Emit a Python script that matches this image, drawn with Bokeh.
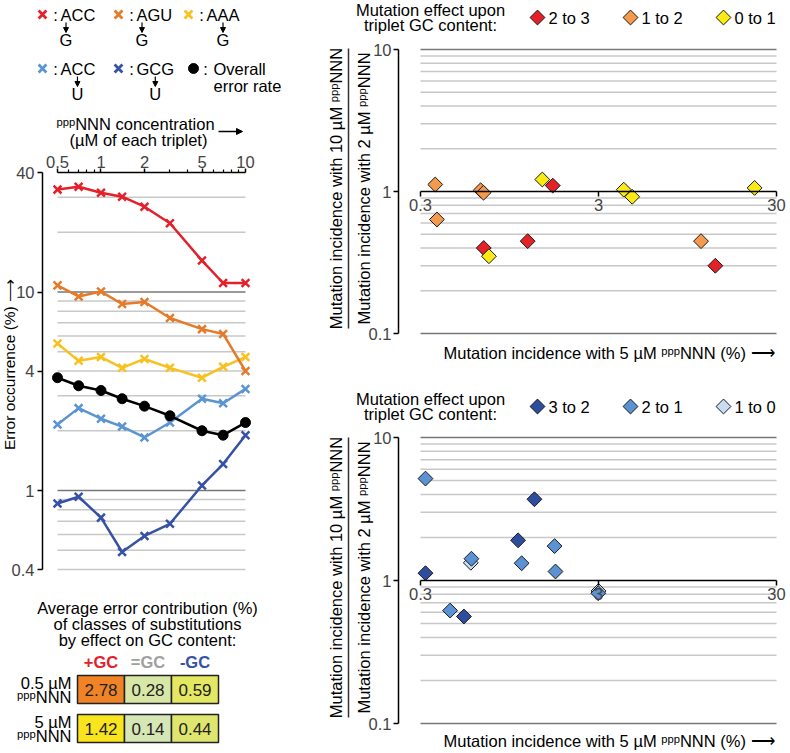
import math
from bokeh.plotting import figure
from bokeh.models import (Range1d, FixedTicker, LogAxis, LogScale, CustomJSTickFormatter,
                          Arrow, NormalHead)
from bokeh.core.properties import value
from bokeh.embed import file_html
from bokeh.resources import INLINE

FONT = "Liberation Sans"
PPP = "\u1d56\u1d56\u1d56"
ARROW = "\u27f6"
FS = 16.5

# ---------------- data ----------------
concentration = [0.5, 0.7, 1, 1.4, 2, 3, 5, 7, 10]
err_acc_to_g = [32.8, 33.9, 31.6, 30.2, 26.9, 22.2, 14.4, 11.1, 11.1]
err_agu_to_g = [10.8, 9.5, 10.05, 8.7, 8.9, 7.4, 6.5, 6.15, 4.0]
err_aaa_to_g = [5.5, 4.5, 4.7, 4.15, 4.6, 4.15, 3.7, 4.2, 4.7]
err_acc_to_u = [2.15, 2.6, 2.3, 2.1, 1.85, 2.2, 2.9, 2.75, 3.25]
err_gcg_to_u = [0.86, 0.93, 0.73, 0.49, 0.59, 0.68, 1.06, 1.36, 1.9]
err_overall = [3.7, 3.37, 3.19, 2.9, 2.66, 2.38, 2.0, 1.9, 2.2]

legend_triplets = ["ACC", "AGU", "AAA", "ACC", "GCG"]
legend_targets = ["G", "G", "G", "U", "U"]
legend_mut_pos = [0, 0, 1, 1, 1]

conc_ticks = [0.5, 1, 2, 5, 10]
conc_minor_ticks = [0.6, 0.7, 0.8, 0.9, 3, 4, 6, 7, 8, 9]
err_ticks = [0.4, 1, 4, 10, 40]
err_grid_light = [0.4, 0.5, 0.6, 0.7, 0.8, 0.9, 2, 3, 4, 5, 6, 7, 8, 9, 20, 30]
err_grid_dark = [1, 10]

table_rows = ["0.5 µM", "5 µM"]
table_cols = ["+GC", "=GC", "-GC"]
table_vals_05uM = [2.78, 0.28, 0.59]
table_vals_5uM = [1.42, 0.14, 0.44]

gain_labels = ["2 to 3", "1 to 2", "0 to 1"]
gc2to3_x = [0.68, 1.2, 1.66, 13.6]
gc2to3_y = [0.40, 0.447, 1.10, 0.30]
gc1to2_x = [0.363, 0.371, 0.653, 0.678, 11.3]
gc1to2_y = [1.12, 0.635, 1.02, 0.98, 0.447]
gc0to1_x = [0.727, 1.45, 4.16, 4.64, 22.6]
gc0to1_y = [0.35, 1.215, 1.03, 0.918, 1.06]

loss_labels = ["3 to 2", "2 to 1", "1 to 0"]
gc3to2_x = [1.31, 1.06, 0.32, 0.526]
gc3to2_y = [3.7, 1.91, 1.125, 0.56]
gc2to1_x = [0.32, 0.58, 1.11, 1.7, 1.72, 0.44, 2.99]
gc2to1_y = [5.16, 1.42, 1.32, 1.74, 1.156, 0.616, 0.815]
gc1to0_x = [0.575, 3.0]
gc1to0_y = [1.33, 0.845]

inc_ticks = [0.3, 3, 30]
ratio_ticks = [0.1, 1, 10]
ratio_grid_light = [0.2, 0.3, 0.4, 0.5, 0.6, 0.7, 0.8, 0.9, 2, 3, 4, 5, 6, 7, 8, 9]
ratio_grid_dark = [0.1, 10]

# ---------------- styles ----------------
C_RED = "#E4202A"
C_ORANGE = "#E37B2B"
C_YELLOW = "#F7C21F"
C_LBLUE = "#5A95D2"
C_DBLUE = "#3652A6"
legend_colors = [C_RED, C_ORANGE, C_YELLOW, C_LBLUE, C_DBLUE]
gain_colors = ["#E42127", "#F49A4C", "#FCEA14"]
loss_colors = ["#2E4D9E", "#5B92D3", "#C8DDF2"]
cell_colors = [["#F08326", "#D8E7A6", "#E3E762"], ["#F9E51E", "#D6E6B4", "#DFE66F"]]
header_colors = [C_RED, "#A0A0A0", C_DBLUE]
GRID_LIGHT = "#c8c8c8"
GRID_DARK = "#777777"
LETTER_W = {"A": 0.667, "C": 0.722, "G": 0.778, "U": 0.722}

W, H = 788, 751          # canvas size in page pixels
PAGE_L, PAGE_T = 0, 0


def PX(X):
    return X - PAGE_L


def PY(Y):
    return H - (Y - PAGE_T)


def log_xrange(v, X, ppd):
    return Range1d(v * 10 ** ((PAGE_L - X) / ppd), v * 10 ** ((PAGE_L + W - X) / ppd))


def log_yrange(v, Y, ppd):
    return Range1d(v * 10 ** ((Y - (PAGE_T + H)) / ppd), v * 10 ** ((Y - PAGE_T) / ppd))


p = figure(width=W, height=H, x_range=Range1d(0, W), y_range=Range1d(0, H),
           x_axis_type=None, y_axis_type=None, min_border=0, outline_line_color=None,
           output_backend="svg", toolbar_location=None)
p.extra_x_ranges = {"mx": log_xrange(0.5, 57, 144.5), "sx": log_xrange(0.3, 420, 178)}
p.extra_x_scales = {"mx": LogScale(), "sx": LogScale()}
p.extra_y_ranges = {"my": log_yrange(40, 172, 198.5), "sy1": log_yrange(10, 49, 142),
                    "sy2": log_yrange(10, 437, 143)}
p.extra_y_scales = {"my": LogScale(), "sy1": LogScale(), "sy2": LogScale()}


def txt(x, y, t, size=FS, align="center", color="black", bold=False, angle=0.0):
    p.text(x=[x], y=[y], text=[t], text_font=value(FONT), text_font_size=value(f"{size}px"),
           text_align=align, text_baseline="middle", text_color=color,
           text_font_style="bold" if bold else "normal", angle=angle)


def fmt():
    return CustomJSTickFormatter(code="return tick.toString();")


def style_axis(ax, size=f"{FS}px", tick=5):
    ax.formatter = fmt()
    ax.major_tick_in = 0
    ax.major_tick_out = tick
    ax.minor_tick_in = 0
    ax.minor_tick_out = 3
    ax.axis_line_width = 1.5
    ax.major_tick_line_width = 1.5
    ax.minor_tick_line_width = 1.2
    ax.major_label_text_font = FONT
    ax.major_label_text_font_size = size
    ax.major_label_standoff = 2


# ---------------- left: legend ----------------
entry_x = [42, 118, 188, 42, 118]
entry_y = [14, 14, 14, 68, 68]
for i, trip in enumerate(legend_triplets):
    ex, ey = entry_x[i], entry_y[i]
    p.scatter([PX(ex)], [PY(ey)], marker="x", size=11, line_width=2.8, line_color=legend_colors[i])
    txt(PX(ex + 13), PY(ey), ":")
    txt(PX(ex + 18), PY(ey), trip, align="left")
    k = legend_mut_pos[i]
    cx = ex + 18 + FS * (sum(LETTER_W[c] for c in trip[:k]) + LETTER_W[trip[k]] / 2)
    p.add_layout(Arrow(end=NormalHead(size=5, fill_color="black", line_color="black"),
                       x_start=PX(cx), y_start=PY(ey + 8), x_end=PX(cx), y_end=PY(ey + 18),
                       line_width=1.2, line_color="black"))
    txt(PX(cx), PY(ey + 25), legend_targets[i])
p.scatter([PX(193)], [PY(68)], marker="circle", size=10, fill_color="black", line_color="black")
txt(PX(205), PY(68), ":")
txt(PX(213), PY(68), "Overall", align="left")
txt(PX(213), PY(85), "error rate", align="left")
txt(PX(135), PY(123), PPP + "NNN concentration")
txt(PX(138), PY(139), "(µM of each triplet)")
p.add_layout(Arrow(end=NormalHead(size=6, fill_color="black", line_color="black"),
                   x_start=PX(218), y_start=PY(131), x_end=PX(242), y_end=PY(131),
                   line_width=1.5, line_color="black"))

# ---------------- left: main chart ----------------
M = dict(x_range_name="mx", y_range_name="my")
x0, x1 = concentration[0], concentration[-1]
p.segment(x0=[x0] * len(err_grid_light), x1=[x1] * len(err_grid_light),
          y0=err_grid_light, y1=err_grid_light, line_color=GRID_LIGHT, line_width=1.5, **M)
p.segment(x0=[x0] * len(err_grid_dark), x1=[x1] * len(err_grid_dark),
          y0=err_grid_dark, y1=err_grid_dark, line_color=GRID_DARK, line_width=1.5, **M)
for ys, col in [(err_gcg_to_u, C_DBLUE), (err_acc_to_u, C_LBLUE), (err_aaa_to_g, C_YELLOW),
                (err_agu_to_g, C_ORANGE), (err_acc_to_g, C_RED)]:
    p.line(concentration, ys, line_color=col, line_width=2.5, **M)
    p.scatter(concentration, ys, marker="x", size=11, line_width=2.5, line_color=col, **M)
p.line(concentration, err_overall, line_color="black", line_width=2.5, **M)
p.scatter(concentration, err_overall, marker="circle", size=10, fill_color="black",
          line_color="black", **M)

top_ax = LogAxis(x_range_name="mx", y_range_name="my", fixed_location=err_ticks[-1],
                 bounds=(conc_ticks[0], conc_ticks[-1]),
                 ticker=FixedTicker(ticks=conc_ticks, minor_ticks=conc_minor_ticks))
style_axis(top_ax, tick=4)
top_ax.major_label_standoff = 1
p.add_layout(top_ax, "above")
left_ax = LogAxis(y_range_name="my", fixed_location=PX(42), bounds=(err_ticks[0], err_ticks[-1]),
                  ticker=FixedTicker(ticks=err_ticks, minor_ticks=[]))
style_axis(left_ax, tick=5)
left_ax.major_label_standoff = 3
p.add_layout(left_ax, "left")
txt(PX(9), PY(364), "Error occurrence (%) " + ARROW, size=15.5, angle=math.pi / 2)

# ---------------- left: table ----------------
txt(PX(147), PY(607), "Average error contribution (%)")
txt(PX(147), PY(623), "of classes of substitutions")
txt(PX(147), PY(639), "by effect on GC content:")
cell_w, cell_h, row_step = 47, 28, 39
left0, top0 = 77, 675
for j, c in enumerate(table_cols):
    txt(PX(left0 + cell_w * (j + 0.5)), PY(661), c, color=header_colors[j], bold=True)
for i, vals in enumerate([table_vals_05uM, table_vals_5uM]):
    top = top0 + i * row_step
    lefts = [PX(left0 + j * cell_w) for j in range(len(vals))]
    p.quad(left=lefts, right=[l + cell_w for l in lefts],
           top=[PY(top)] * len(vals), bottom=[PY(top + cell_h)] * len(vals),
           fill_color=cell_colors[i], line_color="#222222", line_width=1.5)
    for j, v in enumerate(vals):
        txt(lefts[j] + cell_w / 2, PY(top + cell_h / 2), f"{v:.2f}", size=17, color="#222222")
    txt(PX(71), PY(top + cell_h / 2 - 7), table_rows[i], align="right")
    txt(PX(71), PY(top + cell_h / 2 + 7), PPP + "NNN", align="right")


# ---------------- right: scatter panels ----------------
def scatter_panel(yname, frame_top, frame_h, label_y, legend_top, labels, legend_cols,
                  xs, ys, draw_cols):
    S = dict(x_range_name="sx", y_range_name=yname)
    # legend
    txt(PX(430), PY(legend_top), "Mutation effect upon")
    txt(PX(430), PY(legend_top + 15), "triplet GC content:")
    for k, (lab, col) in enumerate(zip(labels, legend_cols)):
        dx = 537 + 93 * k
        p.scatter([PX(dx)], [PY(legend_top + 8)], marker="square", angle=math.pi / 4, size=10.5,
                  fill_color=col, line_color="#1a1a1a", line_width=1)
        txt(PX(dx + 11), PY(legend_top + 8), lab, align="left")
    # y label (fraction)
    cy = frame_top + frame_h / 2 - 3
    txt(PX(335), PY(cy), "Mutation incidence with 10 µM " + PPP + "NNN", angle=math.pi / 2)
    txt(PX(363), PY(cy), "Mutation incidence with 2 µM " + PPP + "NNN", angle=math.pi / 2)
    p.segment(x0=[PX(348)], x1=[PX(348)], y0=[PY(cy + 140)], y1=[PY(cy - 140)],
              line_color="#333333", line_width=1.5)
    # grid
    gx0, gx1 = inc_ticks[0], inc_ticks[-1]
    p.segment(x0=[gx0] * len(ratio_grid_light), x1=[gx1] * len(ratio_grid_light),
              y0=ratio_grid_light, y1=ratio_grid_light, line_color=GRID_LIGHT, line_width=1.5, **S)
    p.segment(x0=[gx0] * len(ratio_grid_dark), x1=[gx1] * len(ratio_grid_dark),
              y0=ratio_grid_dark, y1=ratio_grid_dark, line_color=GRID_DARK, line_width=1.5, **S)
    # axes
    yax = LogAxis(y_range_name=yname, fixed_location=PX(398),
                  bounds=(ratio_ticks[0], ratio_ticks[-1]),
                  ticker=FixedTicker(ticks=ratio_ticks, minor_ticks=[]))
    style_axis(yax)
    p.add_layout(yax, "left")
    xax = LogAxis(x_range_name="sx", y_range_name=yname, fixed_location=1,
                  bounds=(inc_ticks[0], inc_ticks[-1]),
                  ticker=FixedTicker(ticks=inc_ticks, minor_ticks=[]))
    style_axis(xax)
    p.add_layout(xax, "below")
    txt(PX(774), PY(label_y),
        "Mutation incidence with 5 µM " + PPP + "NNN (%) " + ARROW, align="right")
    for x, y, col in zip(xs, ys, draw_cols):
        p.scatter(x, y, marker="square", angle=math.pi / 4, size=10.5, fill_color=col,
                  line_color="#1a1a1a", line_width=1, **S)


scatter_panel("sy1", 49, 284, 352, 9, gain_labels, gain_colors,
              [gc1to2_x, gc2to3_x, gc0to1_x], [gc1to2_y, gc2to3_y, gc0to1_y],
              [gain_colors[1], gain_colors[0], gain_colors[2]])
scatter_panel("sy2", 437, 286, 740, 398, loss_labels, loss_colors,
              [gc1to0_x, gc2to1_x, gc3to2_x], [gc1to0_y, gc2to1_y, gc3to2_y],
              [loss_colors[2], loss_colors[1], loss_colors[0]])

open("out.html", "w").write(file_html(p, INLINE))
